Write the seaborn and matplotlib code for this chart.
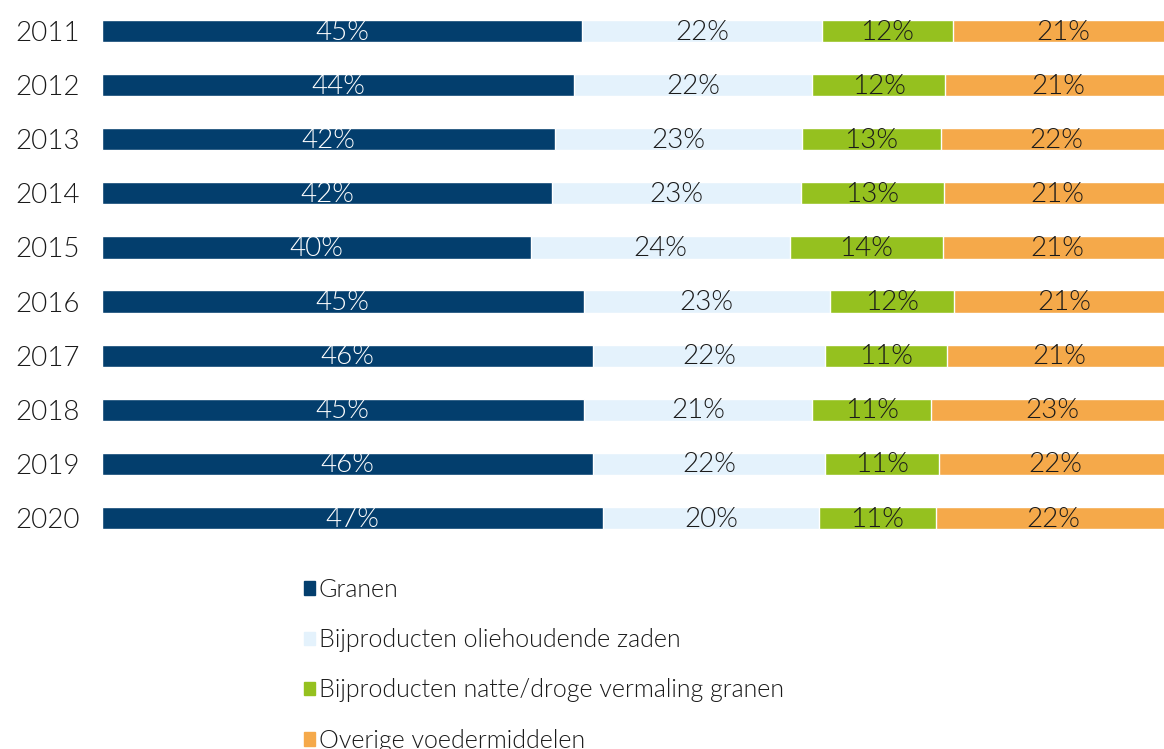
import pandas as pd
import seaborn as sns
import matplotlib.pyplot as plt
from matplotlib.patches import Patch

# shares per year (percent)
years = ['2011', '2012', '2013', '2014', '2015', '2016', '2017', '2018', '2019', '2020']
granen = [44.9, 44.1, 42.3, 42.1, 40.1, 45.0, 45.9, 45.0, 45.9, 46.8]
oliezaden = [22.4, 22.3, 23.1, 23.2, 24.2, 23.0, 21.7, 21.4, 21.7, 20.2]
vermaling = [12.2, 12.4, 13.0, 13.4, 14.3, 11.6, 11.4, 11.1, 10.6, 10.9]
overig = [20.6, 21.1, 21.6, 21.2, 21.4, 20.6, 21.0, 22.6, 21.8, 22.1]

series = ['Granen', 'Bijproducten oliehoudende zaden',
          'Bijproducten natte/droge vermaling granen', 'Overige voedermiddelen']
colors = ['#033e6d', '#e4f2fc', '#95c11f', '#f5a94a']
text_colors = ['white', '#1a1a1a', '#1a1a1a', '#1a1a1a']

df = pd.DataFrame({'year': years, series[0]: granen, series[1]: oliezaden,
                   series[2]: vermaling, series[3]: overig})
cum = df[series].cumsum(axis=1)

sns.set_style('white')
plt.rcParams['font.family'] = ['Lato', 'DejaVu Sans']
plt.rcParams['font.weight'] = 300

fig = plt.figure(figsize=(11.64, 7.49), dpi=100)
ax = fig.add_axes([102 / 1164, 1 - 545 / 749, 1070 / 1164, 541 / 749])

# stacked bars: draw cumulative totals from the outermost layer inwards
for s, c in reversed(list(zip(series, colors))):
    sns.barplot(x=cum[s], y=df['year'], color=c, orient='h', width=0.41,
                saturation=1, ax=ax)

for i in range(len(years)):
    for s, tc in zip(series, text_colors):
        v = df.loc[i, s]
        ax.text(cum.loc[i, s] - v / 2, i + 0.02, f'{v:.0f}%', ha='center', va='center',
                color=tc, fontsize=20, fontweight=300)

ax.set_xlim(0, 100)
ax.set_xlabel('')
ax.set_ylabel('')
ax.set_xticks([])
ax.tick_params(axis='y', length=0, pad=16, labelsize=20, labelcolor='#1a1a1a')
for lbl in ax.get_yticklabels():
    lbl.set_fontweight(300)
sns.despine(ax=ax, left=True, bottom=True)

handles = [Patch(color=c) for c in colors]
leg = fig.legend(handles, series, loc='upper left', bbox_to_anchor=(294 / 1164, 1 - 568 / 749),
                 frameon=False, handlelength=0.45, handleheight=0.45, handletextpad=0.15,
                 labelspacing=1.05, fontsize=18, labelcolor='#1a1a1a', borderaxespad=0)
for t in leg.get_texts():
    t.set_fontweight(300)

fig.savefig('out.png', dpi=100)
